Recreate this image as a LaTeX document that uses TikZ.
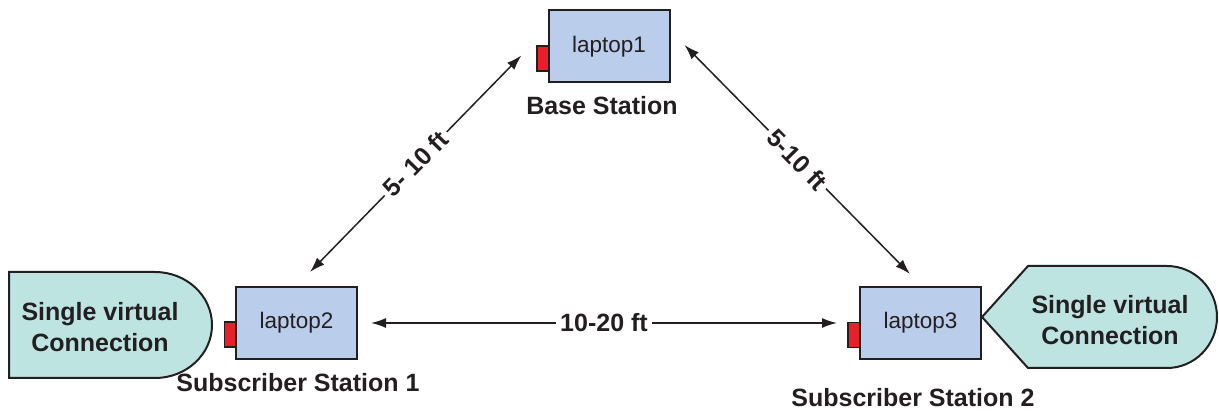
\documentclass[tikz,border=0pt]{standalone}
\usepackage{fontspec}
\setmainfont{Liberation Sans}
\usetikzlibrary{arrows.meta}
\definecolor{boxblue}{HTML}{BACEEB}
\definecolor{calloutfill}{HTML}{BDE4E1}
\definecolor{tabred}{HTML}{E8202A}
\definecolor{ink}{HTML}{231F20}
\begin{document}
\begin{tikzpicture}[x=1pt,y=-1pt,
  laptop/.style={draw=ink,line width=2pt,fill=boxblue,minimum width=121pt,minimum height=72pt,inner sep=0pt,text=ink,font=\fontsize{22.5}{27}\selectfont},
  tab/.style={draw=ink,line width=1.2pt,fill=tabred,minimum width=12pt,minimum height=25pt,inner sep=0pt},
  callout/.style={draw=ink,line width=2pt,fill=calloutfill},
  boldlabel/.style={text=ink,font=\fontsize{25}{31}\selectfont\bfseries,inner sep=0pt},
  link/.style={draw=ink,line width=1.5pt,{Latex[length=15pt,width=10pt]}-{Latex[length=15pt,width=10pt]}},
  dist/.style={fill=white,text=ink,font=\fontsize{25}{31}\selectfont\bfseries,inner sep=4pt}]
\useasboundingbox (0,0) rectangle (1219,411);
% callouts
\path[callout] (9,272) -- (155,272) arc[start angle=-90,end angle=90,x radius=57,y radius=53] -- (9,378) -- cycle;
\path[callout] (982,317) -- (1028,266) -- (1167,266) arc[start angle=-90,end angle=90,x radius=50,y radius=51] -- (1028,368) -- cycle;
\node[boldlabel,align=center] (c1) at (100,327) {Single virtual\\Connection};
\node[boldlabel,align=center] (c2) at (1110,320) {Single virtual\\Connection};
% tabs
\node[tab] (t1) at (543,58.5) {};
\node[tab] (t2) at (230.5,334.5) {};
\node[tab] (t3) at (854,335) {};
% laptops
\node[laptop] (l1) at (609,46.5) {laptop1};
\node[laptop] (l2) at (296.5,323) {laptop2};
\node[laptop] (l3) at (920.5,323) {laptop3};
% station labels
\node[boldlabel,anchor=base] (bs) at (602,115) {Base Station};
\node[boldlabel,anchor=base] (ss1) at (298,392) {Subscriber Station 1};
\node[boldlabel,anchor=base] (ss2) at (913,407) {Subscriber Station 2};
% links
\draw[link] ([shift={(-15,10)}]t1.north west) -- node[dist,midway,sloped] {5- 10 ft} ([shift={(13.5,-14)}]l2.north);
\draw[link] ([shift={(14,-1.5)}]l1.east) -- node[dist,midway,sloped] {5-10 ft} ([shift={(-10.5,-12)}]l3.north);
\draw[link] ([shift={(13,0)}]l2.east) -- node[dist,midway] {10-20 ft} ([shift={(-22,0)}]l3.west);
\end{tikzpicture}
\end{document}
